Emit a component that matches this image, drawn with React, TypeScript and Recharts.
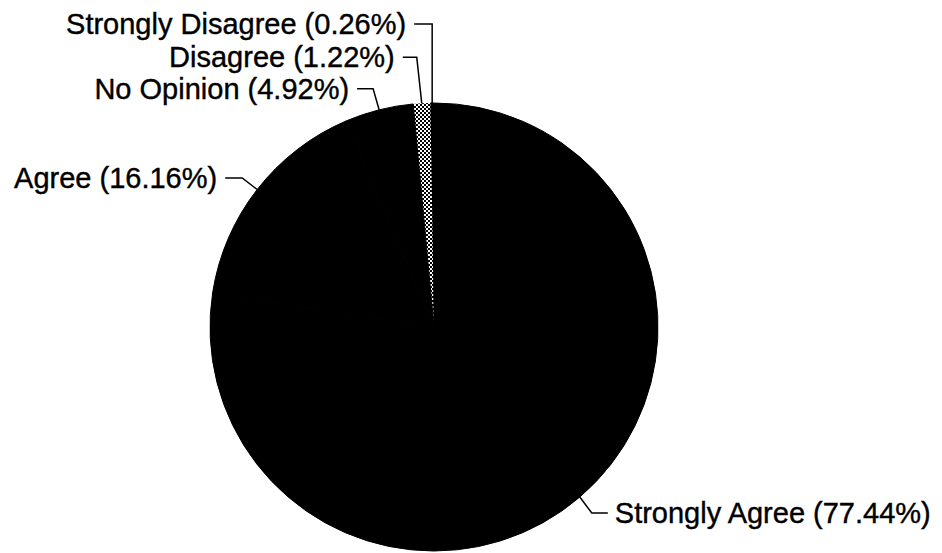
import React from 'react';
import { PieChart, Pie, Cell } from 'recharts';

const categories = ['Strongly Disagree', 'Disagree', 'No Opinion', 'Agree', 'Strongly Agree'];
const percentages = [0.26, 1.22, 4.92, 16.16, 77.44];

const data = categories.map((name, i) => ({ name, value: percentages[i] }));

// label leader layout (offsets relative to slice anchor on the rim)
const leaderLayout = [
  { dx: 0, dy: -79, h: -18 },
  { dx: -5, dy: -46, h: -14 },
  { dx: -6, dy: -21, h: -16 },
  { dx: -15, dy: -11.5, h: -17 },
  { dx: 12, dy: 16, h: 16 },
];

const fills = ['#000000', 'url(#hatch)', '#000000', '#000000', '#000000'];
const strokes = ['#000000', 'none', '#000000', '#000000', '#000000'];

const RADIAN = Math.PI / 180;

const renderLabel = (props: any) => {
  const { cx, cy, midAngle, outerRadius, index, name, value } = props;
  const ax = cx + outerRadius * Math.cos(-midAngle * RADIAN);
  const ay = cy + outerRadius * Math.sin(-midAngle * RADIAN);
  const lay = leaderLayout[index];
  const ex = ax + lay.dx;
  const ey = ay + lay.dy;
  const hx = ex + lay.h;
  const right = lay.h > 0;
  const tx = hx + (right ? 7 : -8);
  return (
    <g key={`lbl-${index}`}>
      <polyline
        points={`${ax},${ay} ${ex},${ey} ${hx},${ey}`}
        fill="none"
        stroke="#000"
        strokeWidth={1.5}
      />
      <text
        x={tx}
        y={ey}
        textAnchor={right ? 'start' : 'end'}
        dominantBaseline="central"
        fontFamily="'Liberation Sans', Arial, sans-serif"
        fontSize={29}
        fill="#000"
        stroke="#000"
        strokeWidth={0.4}
      >
        {`${name} (${Number(value).toFixed(2)}%)`}
      </text>
    </g>
  );
};

export default function App() {
  return (
    <div style={{ position: 'absolute', left: 0, top: 0, width: 942, height: 553, background: '#fff' }}>
      <PieChart width={942} height={553} margin={{ top: 0, right: 0, bottom: 0, left: 0 }}>
        <defs>
          <pattern id="hatch" width="4" height="4" patternUnits="userSpaceOnUse">
            <rect x="0" y="0" width="4" height="4" fill="#ffffff" />
            <rect x="0" y="0" width="2" height="2" fill="#000000" />
            <rect x="2" y="2" width="2" height="2" fill="#000000" />
          </pattern>
        </defs>
        <Pie
          data={data}
          dataKey="value"
          nameKey="name"
          cx={434}
          cy={327}
          outerRadius={224}
          innerRadius={0}
          startAngle={90}
          endAngle={450}
          label={renderLabel}
          labelLine={false}
          isAnimationActive={false}
        >
          {data.map((d, i) => (
            <Cell key={d.name} fill={fills[i]} stroke={strokes[i]} strokeWidth={1} />
          ))}
        </Pie>
      </PieChart>
    </div>
  );
}
